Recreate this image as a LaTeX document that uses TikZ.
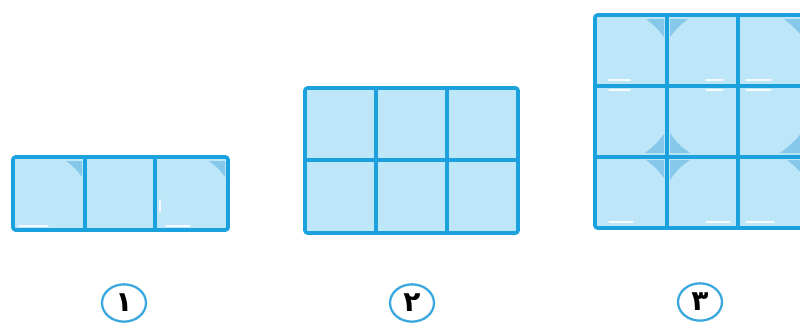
\documentclass[tikz,border=0pt]{standalone}
\usepackage{fontspec}
\newfontfamily\arabicfont[Script=Arabic]{DejaVu Sans}
\definecolor{cellfill}{HTML}{BDE6F8}
\definecolor{gridline}{HTML}{1BA1DE}
\definecolor{shade}{HTML}{86C8EA}
\definecolor{ringblue}{HTML}{3AA8DC}
\tikzset{
  gridborder/.style={draw=gridline, line width=2.8pt, line join=round},
  gridinner/.style={draw=gridline, line width=2.8pt},
  cornershade/.style={fill=shade},
  whitemark/.style={draw=white, line width=1pt, line cap=round, opacity=0.85},
  numring/.style={ellipse, draw=ringblue, line width=1.7pt, fill=white,
    minimum width=33pt, minimum height=28pt, inner sep=0pt, font=\arabicfont\bfseries\fontsize{21}{24}\selectfont},
}
\usetikzlibrary{shapes.geometric}
\begin{document}
\begin{tikzpicture}[x=0.75pt,y=-0.75pt]
\useasboundingbox (0,0) rectangle (800,325);
\clip (0,0) rectangle (800,325);

% ---------- grid 1 (1 x 3) ----------
\fill[cellfill] (13,157) rectangle (228,230);
\fill[cornershade] (66,161) -- (82,161) -- (82,177) .. controls (76,169) and (74,167) .. cycle;
\fill[cornershade] (209,161) -- (225,161) -- (225,177) .. controls (219,169) and (217,167) .. cycle;
\draw[whitemark] (19,226) -- (48,226);
\draw[whitemark] (166,226) -- (190,226);
\draw[whitemark] (160,200) -- (160,212);
\draw[gridinner] (85,157) -- (85,230) (155,157) -- (155,230);
\draw[gridborder, rounded corners=2pt] (13,157) rectangle (228,230);

% ---------- grid 2 (2 x 3) ----------
\fill[cellfill] (305,88) rectangle (518,233);
\draw[gridinner] (305,160) -- (518,160);
\draw[gridinner] (376,88) -- (376,233) (447,88) -- (447,233);
\draw[gridborder, rounded corners=2pt] (305,88) rectangle (518,233);

% ---------- grid 3 (3 x 3) ----------
\fill[cellfill] (595,15) rectangle (809,228);
% corner shades
\fill[cornershade] (646,19) -- (664,19) -- (664,37) .. controls (657,28) and (655,26) .. cycle;
\fill[cornershade] (670,19) -- (688,19) .. controls (679,26) and (677,28) .. (670,37) -- cycle;
\fill[cornershade] (784,19) -- (805,19) -- (805,40) .. controls (797,30) and (794,27) .. cycle;
\fill[cornershade] (664,134) -- (664,153) -- (645,153) .. controls (654,146) and (657,143) .. cycle;
\fill[cornershade] (670,133) .. controls (677,143) and (680,146) .. (690,153) -- (670,153) -- cycle;
\fill[cornershade] (805,128) -- (805,153) -- (780,153) .. controls (791,145) and (797,139) .. cycle;
\fill[cornershade] (646,160) -- (664,160) -- (664,178) .. controls (657,169) and (655,167) .. cycle;
\fill[cornershade] (670,160) -- (690,160) .. controls (680,167) and (677,170) .. (670,180) -- cycle;
\fill[cornershade] (787,160) -- (805,160) -- (805,178) .. controls (798,169) and (796,167) .. cycle;
% white marks
\draw[whitemark] (609,80) -- (630,80);
\draw[whitemark] (706,80) -- (723,80);
\draw[whitemark] (746,80) -- (771,80);
\draw[whitemark] (609,90) -- (630,90);
\draw[whitemark] (706,90) -- (723,90);
\draw[whitemark] (746,90) -- (771,90);
\draw[whitemark] (609,222) -- (633,222);
\draw[whitemark] (706,222) -- (730,222);
\draw[whitemark] (746,222) -- (774,222);
\draw[gridinner] (595,86) -- (809,86) (595,157) -- (809,157);
\draw[gridinner] (667,15) -- (667,228) (738,15) -- (738,228);
\draw[gridborder, rounded corners=2pt] (595,15) rectangle (809,228);

% ---------- labels ----------
\node[numring] (n1) at (124,303) {۱};
\node[numring] (n2) at (412,303) {۲};
\node[numring] (n3) at (700,302) {۳};
\end{tikzpicture}
\end{document}
